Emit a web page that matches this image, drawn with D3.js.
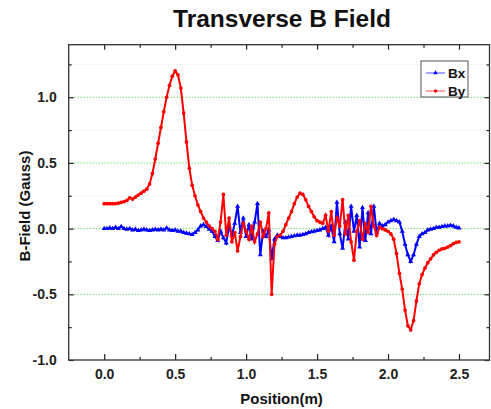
<!DOCTYPE html>
<html>
<head>
<meta charset="utf-8">
<script src="https://cdn.jsdelivr.net/npm/d3@7"></script>
<style>
  body { margin: 0; background: #fff; }
  svg text { font-family: "Liberation Sans", Arial, sans-serif; font-weight: bold; }
</style>
</head>
<body>
<svg id="chart" width="491" height="409"></svg>
<script>
// positions (m), step 0.02
const position = [
  0.00, 0.02, 0.04, 0.06, 0.08, 0.10, 0.12, 0.14, 0.16, 0.18,
  0.20, 0.22, 0.24, 0.26, 0.28, 0.30, 0.32, 0.34, 0.36, 0.38,
  0.40, 0.42, 0.44, 0.46, 0.48, 0.50, 0.52, 0.54, 0.56, 0.58,
  0.60, 0.62, 0.64, 0.66, 0.68, 0.70, 0.72, 0.74, 0.76, 0.78,
  0.80, 0.82, 0.84, 0.86, 0.88, 0.90, 0.92, 0.94, 0.96, 0.98,
  1.00, 1.02, 1.04, 1.06, 1.08, 1.10, 1.12, 1.14, 1.16, 1.18,
  1.20, 1.22, 1.24, 1.26, 1.28, 1.30, 1.32, 1.34, 1.36, 1.38,
  1.40, 1.42, 1.44, 1.46, 1.48, 1.50, 1.52, 1.54, 1.56, 1.58,
  1.60, 1.62, 1.64, 1.66, 1.68, 1.70, 1.72, 1.74, 1.76, 1.78,
  1.80, 1.82, 1.84, 1.86, 1.88, 1.90, 1.92, 1.94, 1.96, 1.98,
  2.00, 2.02, 2.04, 2.06, 2.08, 2.10, 2.12, 2.14, 2.16, 2.18,
  2.20, 2.22, 2.24, 2.26, 2.28, 2.30, 2.32, 2.34, 2.36, 2.38,
  2.40, 2.42, 2.44, 2.46, 2.48, 2.50
];

const bx = [
  0.0, 0.0, 0.005, 0.0, 0.01, 0.0, 0.015, 0.0, -0.005, 0.0,
  -0.01, -0.005, -0.015, -0.01, -0.005, -0.01, -0.015, -0.01, -0.005, -0.01,
  -0.005, -0.01, 0.005, -0.01, -0.015, -0.01, -0.02, -0.02, -0.03, -0.035,
  -0.04, -0.045, -0.03, -0.01, 0.02, 0.03, 0.015, -0.005, -0.02, -0.06,
  -0.09, -0.02, -0.07, -0.11, 0.02, -0.05, 0.04, 0.17, -0.03, 0.08,
  -0.06, 0.03, -0.08, 0.05, 0.19, -0.20, -0.02, -0.06, -0.01, -0.23,
  -0.08, -0.05, -0.06, -0.07, -0.07, -0.065, -0.06, -0.055, -0.05, -0.05,
  -0.045, -0.04, -0.03, -0.025, -0.02, -0.015, -0.01, 0.0, 0.01, -0.05,
  0.02, -0.10, 0.20, -0.04, -0.15, 0.05, -0.08, 0.17, -0.02, 0.10,
  -0.14, 0.16, -0.09, 0.12, -0.04, 0.17, -0.03, 0.04, 0.02, 0.03,
  0.05, 0.06, 0.07, 0.06, 0.05, -0.02, -0.12, -0.20, -0.25, -0.20,
  -0.12, -0.06, -0.04, -0.03, -0.01, -0.005, 0.0, 0.01, 0.01, 0.015,
  0.02, 0.02, 0.025, 0.02, 0.01, 0.005
];

const by = [
  0.19, 0.19, 0.19, 0.19, 0.19, 0.195, 0.20, 0.205, 0.215, 0.235,
  0.225, 0.24, 0.255, 0.27, 0.285, 0.30, 0.34, 0.42, 0.53, 0.65,
  0.77, 0.89, 1.00, 1.09, 1.16, 1.20, 1.17, 1.07, 0.88, 0.66,
  0.46, 0.33, 0.25, 0.18, 0.13, 0.08, 0.05, 0.02, 0.0, -0.02,
  -0.08, 0.05, 0.26, -0.05, 0.08, -0.10, -0.03, -0.17, -0.06, 0.04,
  -0.02, -0.08, 0.02, -0.10, -0.04, 0.05, -0.06, 0.0, 0.12, -0.50,
  -0.12, -0.06, -0.05, -0.02, 0.03, 0.08, 0.13, 0.19, 0.24, 0.27,
  0.26, 0.22, 0.17, 0.13, 0.09, 0.06, 0.05, 0.04, 0.10, -0.02,
  0.13, -0.05, 0.08, 0.02, 0.22, -0.04, 0.10, -0.10, -0.24, -0.02,
  0.06, -0.08, 0.04, -0.03, 0.17, 0.02, -0.05, 0.01, 0.0, -0.01,
  -0.02, -0.04, -0.08, -0.19, -0.34, -0.46, -0.62, -0.74, -0.77, -0.70,
  -0.55, -0.42, -0.35, -0.30, -0.26, -0.23, -0.20, -0.18, -0.165, -0.155,
  -0.15, -0.14, -0.13, -0.115, -0.105, -0.10
];

const xMajor = [0, 0.5, 1.0, 1.5, 2.0, 2.5];
const xMinor = [0.25, 0.75, 1.25, 1.75, 2.25];
const yMajor = [-1.0, -0.5, 0.0, 0.5, 1.0];
const yMinor = [-0.75, -0.25, 0.25, 0.75, 1.25];
const gridMajor = [-0.5, 0.0, 0.5, 1.0];
const gridMinor = [0.25, 0.75, 1.25];

const series = [
  { name: "Bx", values: bx, color: "#0000ff", shape: d3.symbolTriangle },
  { name: "By", values: by, color: "#ff0000", shape: d3.symbolCircle }
];

const plotL = 68.7, plotR = 489.5, plotT = 44.7, plotB = 360;
const svg = d3.select("#chart");

const x = d3.scaleLinear().domain([-0.25, 2.715]).range([plotL, plotR]);
const y = d3.scaleLinear().domain([-1.0, 1.4]).range([plotB, plotT]);
const fmt = d => d.toFixed(1);

// grid lines
svg.append("g").selectAll("line")
  .data(gridMinor).join("line")
  .attr("x1", plotL).attr("x2", plotR)
  .attr("y1", d => y(d)).attr("y2", d => y(d))
  .attr("stroke", "#d6e6d6").attr("stroke-width", 1)
  .attr("stroke-dasharray", "1,2");
svg.append("g").selectAll("line")
  .data(gridMajor).join("line")
  .attr("x1", plotL).attr("x2", plotR)
  .attr("y1", d => y(d)).attr("y2", d => y(d))
  .attr("stroke", "#33cc33").attr("stroke-width", 1)
  .attr("stroke-dasharray", "1,2");

// axes (ticks inward, Origin style)
function styleAxis(g) {
  g.select(".domain").remove();
  g.selectAll(".tick line").attr("stroke", "#222").attr("stroke-width", 1.2);
  g.selectAll("text").attr("font-size", 14).attr("fill", "#222");
}

svg.append("g").attr("transform", `translate(0,${plotB})`)
  .call(d3.axisBottom(x).tickValues(xMajor).tickFormat(fmt).tickSizeInner(-6).tickPadding(9))
  .call(styleAxis);
svg.append("g").attr("transform", `translate(0,${plotB})`)
  .call(d3.axisBottom(x).tickValues(xMinor).tickFormat("").tickSizeInner(-3))
  .call(styleAxis);
svg.append("g").attr("transform", `translate(0,${plotT})`)
  .call(d3.axisTop(x).tickValues(xMajor).tickFormat("").tickSizeInner(-5))
  .call(styleAxis);
svg.append("g").attr("transform", `translate(0,${plotT})`)
  .call(d3.axisTop(x).tickValues(xMinor).tickFormat("").tickSizeInner(-3))
  .call(styleAxis);

svg.append("g").attr("transform", `translate(${plotL},0)`)
  .call(d3.axisLeft(y).tickValues(yMajor).tickFormat(fmt).tickSizeInner(-5).tickPadding(12))
  .call(styleAxis);
svg.append("g").attr("transform", `translate(${plotL},0)`)
  .call(d3.axisLeft(y).tickValues(yMinor).tickFormat("").tickSizeInner(-3))
  .call(styleAxis);
svg.append("g").attr("transform", `translate(${plotR},0)`)
  .call(d3.axisRight(y).tickValues(yMajor).tickFormat("").tickSizeInner(-5))
  .call(styleAxis);
svg.append("g").attr("transform", `translate(${plotR},0)`)
  .call(d3.axisRight(y).tickValues(yMinor).tickFormat("").tickSizeInner(-3))
  .call(styleAxis);

// frame
svg.append("rect")
  .attr("x", plotL).attr("y", plotT)
  .attr("width", plotR - plotL).attr("height", plotB - plotT)
  .attr("fill", "none").attr("stroke", "#333").attr("stroke-width", 1.3);

// data
const line = d3.line().x((d, i) => x(position[i])).y(d => y(d));
series.forEach(s => {
  svg.append("path")
    .datum(s.values)
    .attr("d", line)
    .attr("fill", "none")
    .attr("stroke", s.color)
    .attr("stroke-width", 2);
  svg.append("g").selectAll("path")
    .data(s.values).join("path")
    .attr("transform", (d, i) => `translate(${x(position[i])},${y(d)})`)
    .attr("d", d3.symbol().type(s.shape).size(11))
    .attr("fill", s.color);
});

// title and axis labels
svg.append("text")
  .attr("x", 282).attr("y", 27)
  .attr("text-anchor", "middle")
  .attr("font-size", 24.5)
  .attr("fill", "#111")
  .text("Transverse B Field");

svg.append("text")
  .attr("x", 281.5).attr("y", 404)
  .attr("text-anchor", "middle")
  .attr("font-size", 15)
  .attr("fill", "#111")
  .text("Position(m)");

svg.append("text")
  .attr("transform", "translate(29.5,206) rotate(-90)")
  .attr("text-anchor", "middle")
  .attr("font-size", 15)
  .attr("fill", "#111")
  .text("B-Field (Gauss)");

// legend
const legend = svg.append("g");
legend.append("rect")
  .attr("x", 421).attr("y", 61)
  .attr("width", 47).attr("height", 36)
  .attr("fill", "#fff").attr("stroke", "#555").attr("stroke-width", 1);
series.forEach((s, i) => {
  const ly = 73 + i * 18;
  legend.append("line")
    .attr("x1", 426).attr("x2", 445)
    .attr("y1", ly).attr("y2", ly)
    .attr("stroke", s.color).attr("stroke-width", 1).attr("opacity", 0.7);
  legend.append("path")
    .attr("transform", `translate(435.5,${ly})`)
    .attr("d", d3.symbol().type(s.shape).size(9))
    .attr("fill", s.color);
  legend.append("text")
    .attr("x", 448).attr("y", ly + 5)
    .attr("font-size", 13.5)
    .attr("fill", "#111")
    .text(s.name);
});
</script>
</body>
</html>
